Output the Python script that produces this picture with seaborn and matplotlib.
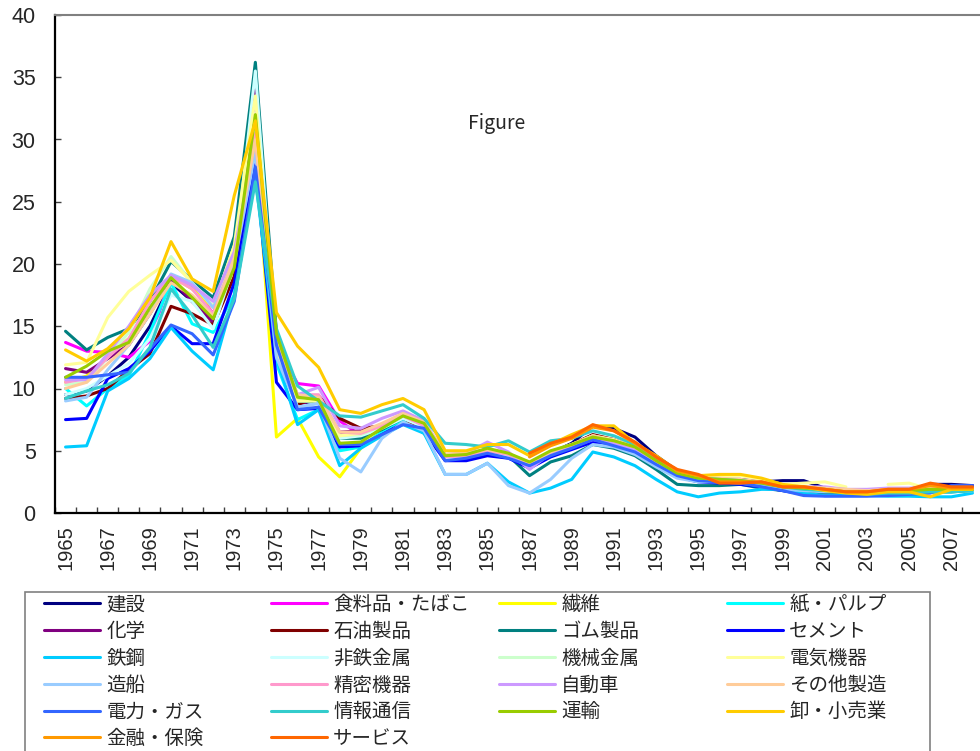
import numpy as np
import pandas as pd
import seaborn as sns
import matplotlib.pyplot as plt
from matplotlib.lines import Line2D
from matplotlib.patches import Rectangle

years = list(range(1965, 2009))
nan = np.nan

industries = ['建設', '食料品・たばこ', '繊維', '紙・パルプ',
              '化学', '石油製品', 'ゴム製品', 'セメント',
              '鉄鋼', '非鉄金属', '機械金属', '電気機器',
              '造船', '精密機器', '自動車', 'その他製造',
              '電力・ガス', '情報通信', '運輸', '卸・小売業',
              '金融・保険', 'サービス']

colors = ['#000080', '#FF00FF', '#FFFF00', '#00FFFF',
          '#800080', '#800000', '#008080', '#0000FF',
          '#00CCFF', '#CCFFFF', '#CCFFCC', '#FFFF99',
          '#99CCFF', '#FF99CC', '#CC99FF', '#FFCC99',
          '#3366FF', '#33CCCC', '#99CC00', '#FFCC00',
          '#FF9900', '#FF6600']

# values 1965 .. 2008
kensetsu = [9.5, 9.8, 11.0, 12.5, 15.0, 18.5, 17.0, 15.5, 20.5, 31.0,
            13.0, 8.8, 9.0, 6.3, 6.5, 7.0, 7.6, 6.8, 4.4, 4.5, 4.9, 4.6,
            3.8, 4.8, 5.6, 7.0, 6.8, 6.1, 4.6, 3.4, 2.9, 2.7, 2.7, 2.5, 2.6, 2.6, 2.0,
            1.6, 1.6, 1.7, 1.9, 2.3, 2.3, 2.2]
shokuryo = [13.7, 13.0, 12.9, 12.5, 13.8, 19.0, 18.3, 16.0, 21.0, 30.5,
            13.5, 10.4, 10.2, 7.4, 6.2, 6.9, 7.8, 7.0, 4.5, 4.6, 5.0, 4.7,
            3.9, 4.8, 5.5, 6.2, 5.9, 5.3, 4.2, 3.2, 2.8, 2.7, 2.6, 2.4, 2.1, 2.0, 1.9,
            1.8, 1.7, 1.8, 1.8, 1.9, 2.0, 2.0]
seni = [10.5, 11.0, 12.5, 14.0, 16.0, 19.0, 18.0, 16.5, 21.0, 30.0,
        6.1, 7.6, 4.5, 2.9, 5.2, 6.6, 7.6, 7.0, 4.4, 4.5, 4.9, 4.6,
        3.8, 4.7, 5.3, 6.0, 5.7, 5.1, 4.0, 3.1, 2.7, 2.6, 2.5, 2.3, 2.0, 1.9, 1.8,
        1.7, 1.6, 1.7, 1.7, 1.8, 1.8, 1.8]
kami = [10.0, 8.6, 10.0, 11.0, 14.5, 18.5, 15.2, 14.5, 17.5, 30.0,
        12.0, 7.5, 8.3, 5.0, 5.3, 6.5, 7.5, 6.8, 4.3, 4.4, 4.8, 4.5,
        3.6, 4.6, 5.2, 5.9, 5.6, 5.0, 4.0, 3.0, 2.6, 2.5, 2.4, 2.2, 1.9, 1.8, 1.7,
        1.6, 1.5, 1.6, 1.6, 1.7, 1.7, 1.8]
kagaku = [11.6, 11.3, 12.4, 13.5, 16.0, 18.8, 17.0, 15.3, 20.0, 34.0,
          13.5, 8.7, 9.2, 6.5, 6.6, 7.0, 7.7, 7.0, 4.4, 4.5, 5.0, 4.6,
          3.7, 4.7, 5.3, 6.0, 5.6, 5.0, 4.0, 3.0, 2.7, 2.6, 2.5, 2.3, 2.0, 1.9, 1.8,
          1.7, 1.6, 1.7, 1.7, 1.8, 1.8, 1.9]
sekiyu = [9.2, 9.4, 10.0, 11.5, 12.8, 16.6, 16.0, 15.1, 19.0, 30.5,
          13.0, 8.7, 9.4, 7.6, 6.8, 7.0, 7.7, 6.4, 4.4, 4.5, 4.9, 4.7,
          3.9, 4.8, 5.5, 6.3, 5.9, 5.2, 4.1, 3.1, 2.7, 2.6, 2.6, 2.1, 2.0, 1.8, 1.55,
          1.5, 1.6, 1.7, 1.8, 1.9, 1.9, 1.9]
gomu = [14.6, 13.1, 14.1, 14.8, 17.0, 20.2, 18.7, 17.3, 22.2, 36.2,
        14.5, 9.0, 8.9, 6.0, 6.0, 6.7, 7.6, 7.0, 4.3, 4.4, 4.9, 4.6,
        3.0, 4.1, 4.6, 5.5, 5.2, 4.6, 3.5, 2.3, 2.2, 2.2, 2.3, 2.0, 1.8, 1.6, 1.6,
        1.6, 1.6, 1.6, 1.7, 1.7, 1.7, 1.8]
cement = [7.5, 7.6, 10.8, 11.6, 13.0, 15.0, 13.6, 13.6, 18.5, 28.0,
          10.5, 8.3, 8.4, 5.3, 5.4, 6.3, 7.2, 6.5, 4.2, 4.2, 4.6, 4.4,
          3.6, 4.5, 5.1, 5.7, 5.4, 4.8, 3.8, 2.9, 2.5, 2.4, 2.3, 2.1, 1.8, 1.5, 1.4,
          1.4, 1.4, 1.5, 1.6, 1.7, 2.2, 2.2]
tekko = [5.3, 5.4, 9.8, 10.8, 12.4, 14.9, 13.0, 11.5, 17.5, 27.0,
         12.5, 7.1, 8.3, 3.8, 5.2, 6.2, 7.1, 6.4, 3.1, 3.1, 4.0, 2.5,
         1.6, 2.0, 2.7, 4.9, 4.5, 3.8, 2.7, 1.7, 1.3, 1.6, 1.7, 1.9, 1.9, 1.6, 1.4,
         1.4, 1.4, 1.35, 1.35, 1.3, 1.3, 1.6]
hitetsu = [9.5, 10.0, 11.0, 12.0, 14.0, 17.5, 17.0, 14.8, 20.0, 35.5,
           13.0, 8.5, 8.8, 6.0, 6.2, 6.8, 7.6, 6.9, 4.4, 4.5, 4.9, 4.6,
           3.7, 4.7, 5.3, 6.0, 5.6, 5.0, 4.0, 3.0, 2.6, 2.6, 2.5, 2.3, 2.0, 1.9, 1.8,
           1.7, 1.7, 1.7, 1.7, 1.8, 1.8, 1.8]
kikai = [10.3, 10.5, 12.5, 14.5, 18.0, 20.6, 18.5, 16.6, 20.5, 31.0,
         13.5, 9.0, 9.0, 6.2, 6.3, 7.0, 7.8, 7.1, 4.6, 4.7, 5.1, 4.8,
         3.9, 4.9, 5.5, 6.2, 5.8, 5.2, 4.1, 3.1, 2.8, 2.7, 2.6, 2.4, 2.1, 2.0, 1.9,
         1.8, 1.8, 1.8, 1.8, 1.9, 1.9, 1.9]
denki = [11.9, 12.1, 15.7, 17.8, 19.1, 20.3, 18.5, 16.5, 21.5, 33.5,
         13.0, 9.0, 9.0, 6.2, 6.4, 7.0, 7.9, 7.2, 4.6, 4.7, 5.1, 4.8,
         3.9, 4.9, 5.5, 6.2, 5.9, 5.3, 4.2, 3.2, 2.9, 2.9, 3.0, 2.7, 2.3, 2.4, 2.5,
         2.1, nan, 2.3, 2.4, 1.9, 1.8, 1.8]
zosen = [9.0, 9.3, 11.5, 13.5, 16.0, 19.2, 18.5, 16.5, 20.0, 29.0,
         12.5, 8.5, 8.8, 4.4, 3.3, 6.0, 7.3, 6.6, 3.1, 3.1, 4.0, 2.2,
         1.6, 2.7, 4.4, 5.5, 5.3, 4.7, 3.7, 2.8, 2.5, 2.5, 2.4, 2.2, 1.9, 1.8, 1.7,
         1.7, 1.6, 1.6, 1.7, 1.7, 1.8, 1.8]
seimitsu = [10.5, 10.8, 12.5, 14.0, 17.0, 19.0, 18.0, 16.0, 20.5, 30.5,
            13.5, 9.5, 9.5, 6.5, 6.4, 7.0, 7.8, 7.0, 4.5, 4.6, 5.0, 4.7,
            3.8, 4.8, 5.4, 6.1, 5.8, 5.2, 4.1, 3.1, 2.7, 2.7, 2.6, 2.4, 2.1, 2.0, 1.9,
            1.8, 1.8, 1.8, 1.8, 1.9, 1.9, 1.9]
jidosha = [10.7, 10.7, 12.8, 15.0, 17.5, 19.1, 18.3, 17.0, 21.0, 30.0,
           13.5, 9.5, 10.1, 7.0, 6.8, 7.6, 8.2, 7.4, 4.7, 4.8, 5.7, 4.9,
           3.5, 4.8, 5.3, 5.9, 5.6, 5.1, 4.1, 3.1, 2.7, 2.7, 2.6, 2.4, 2.2, 2.1, 2.1,
           1.9, 1.9, 2.0, 2.0, 2.1, 2.1, 2.0]
sonota = [10.0, 10.5, 12.0, 13.5, 16.0, 18.5, 17.5, 15.8, 20.5, 30.0,
          14.0, 9.5, 9.3, 6.5, 6.5, 7.2, 8.0, 7.3, 4.7, 4.8, 5.1, 4.8,
          4.0, 4.9, 5.5, 6.2, 5.8, 5.3, 4.2, 3.2, 2.8, 2.8, 2.7, 2.5, 2.2, 2.1, 2.0,
          1.9, 1.8, 1.9, 1.9, 2.0, 2.0, 2.0]
denryoku = [10.9, 10.9, 11.1, 11.3, 13.2, 15.1, 14.4, 12.7, 17.0, 27.8,
            13.5, 8.3, 8.5, 5.5, 5.5, 6.3, 7.1, 6.8, 4.2, 4.4, 4.8, 4.4,
            3.8, 4.6, 5.2, 5.9, 5.4, 4.9, 3.9, 3.0, 2.6, 2.5, 2.4, 2.1, 1.8, 1.4, 1.35,
            1.35, 1.35, 1.4, 1.5, 1.6, 2.2, 2.2]
joho = [9.2, 9.8, 10.3, 11.2, 13.3, 18.0, 15.9, 13.3, 17.2, 26.6,
        14.8, 10.2, 9.0, 7.8, 7.7, 8.2, 8.7, 7.6, 5.6, 5.5, 5.3, 5.8,
        4.9, 5.8, 6.0, 6.6, 6.2, 5.5, 4.3, 3.3, 2.8, 2.7, 2.6, 2.4, 2.1, 1.9, 1.8,
        1.7, 1.5, 1.6, 1.6, 1.7, 1.7, 1.8]
unyu = [10.9, 11.8, 13.0, 13.7, 16.5, 18.9, 17.3, 15.6, 19.7, 32.0,
        14.4, 9.3, 9.1, 5.6, 5.7, 6.8, 7.8, 7.2, 4.6, 4.7, 5.2, 4.8,
        4.1, 5.0, 5.5, 6.1, 5.8, 5.3, 4.2, 3.2, 2.8, 2.7, 2.6, 2.4, 2.1, 2.0, 1.9,
        1.7, 1.7, 1.8, 1.8, 1.9, 1.9, 1.9]
oroshi = [13.1, 12.2, 13.2, 14.8, 17.3, 21.8, 18.8, 17.8, 25.5, 31.5,
          16.1, 13.4, 11.7, 8.3, 8.0, 8.7, 9.2, 8.3, 5.0, 5.0, 5.5, 5.5,
          4.6, 5.5, 6.3, 7.0, 7.0, 5.6, 4.6, 3.4, 3.0, 3.1, 3.1, 2.8, 2.3, 2.1, 1.8,
          1.6, 1.5, 1.7, 1.7, 1.3, 1.9, 1.9]
kinyu = [nan] * 22 + [4.5, 5.4, 6.0, 6.9, 6.6, 5.6, 4.5, 3.4, 3.0, 2.5, 2.5,
                      2.5, 2.1, 2.1, 1.9, 1.7, 1.7, 1.9, 1.9, 2.2, 2.0, 2.0]
service = [nan] * 22 + [4.8, 5.6, 6.1, 7.1, 6.6, 5.7, 4.5, 3.5, 3.1, 2.4, 2.4,
                        2.5, 2.1, 2.1, 1.9, 1.7, 1.7, 1.9, 1.9, 2.4, 2.1, 2.1]

series = [kensetsu, shokuryo, seni, kami, kagaku, sekiyu, gomu, cement,
          tekko, hitetsu, kikai, denki, zosen, seimitsu, jidosha, sonota,
          denryoku, joho, unyu, oroshi, kinyu, service]

# long table, with a segment id so that gaps stay gaps
rows = []
for name, vals in zip(industries, series):
    seg = 0
    for i, v in enumerate(vals):
        if np.isnan(v):
            seg += 1
            continue
        rows.append({'industry': name, 'x': i, 'value': v, 'seg': seg})
df = pd.DataFrame(rows)

sns.set_style('white')
plt.rcParams['font.family'] = ['Noto Sans CJK JP', 'DejaVu Sans']

W, H = 980, 751
fig = plt.figure(figsize=(W / 100, H / 100), dpi=100)
ax = fig.add_axes([55 / W, 1 - 513 / H, (983 - 55) / W, (513 - 15) / H])

palette = dict(zip(industries, colors))
sns.lineplot(data=df, x='x', y='value', hue='industry', hue_order=industries,
             palette=palette, units='seg', estimator=None, sort=False,
             linewidth=2.2, legend=False, ax=ax)

ax.set_xlim(-0.5, 43.5)
ax.set_ylim(0, 40)
ax.set_xlabel('')
ax.set_ylabel('')
ax.set_xticks(range(0, 44, 2))
ax.set_xticklabels([str(y) for y in years[::2]], rotation=90)
ax.set_xticks(np.arange(-0.5, 44, 1), minor=True)
ax.tick_params(axis='x', which='major', length=0, pad=9)
ax.tick_params(axis='x', which='minor', direction='in', length=4.5, width=1,
               color='#404040', bottom=True)
ax.set_yticks(range(0, 41, 5))
ax.tick_params(axis='y', direction='in', length=4.5, width=1, color='#404040',
               left=True, pad=14)
for lbl in ax.get_xticklabels():
    lbl.set_fontfamily('Liberation Sans')
    lbl.set_fontsize(14.5)
for lbl in ax.get_yticklabels():
    lbl.set_fontfamily('Liberation Sans')
    lbl.set_fontsize(15.5)

for side in ['left', 'bottom']:
    ax.spines[side].set_color('#000000')
    ax.spines[side].set_linewidth(1.6)
ax.spines['top'].set_color('#808080')
ax.spines['top'].set_linewidth(1.5)
ax.spines['right'].set_visible(False)

fig.text(497 / W, 1 - 123 / H, 'Figure', ha='center', va='center', fontsize=14)

# legend: four columns filled row by row, inside one grey box
fig.add_artist(Rectangle((25 / W, -0.05), (930 - 25) / W, 0.05 + 1 - 592 / H,
                         transform=fig.transFigure, fill=False,
                         edgecolor='#808080', linewidth=1.2))
col_x = [44, 271, 499, 727]
for c in range(4):
    names = industries[c::4]
    handles = [Line2D([0], [0], color=palette[n], lw=2.2) for n in names]
    fig.legend(handles, names, loc='upper left',
               bbox_to_anchor=(col_x[c] / W, 1 - 594 / H),
               frameon=False, fontsize=14, borderpad=0, borderaxespad=0,
               handlelength=2.9, handletextpad=0.3, labelspacing=0.3)

fig.savefig('out.png', dpi=100)
